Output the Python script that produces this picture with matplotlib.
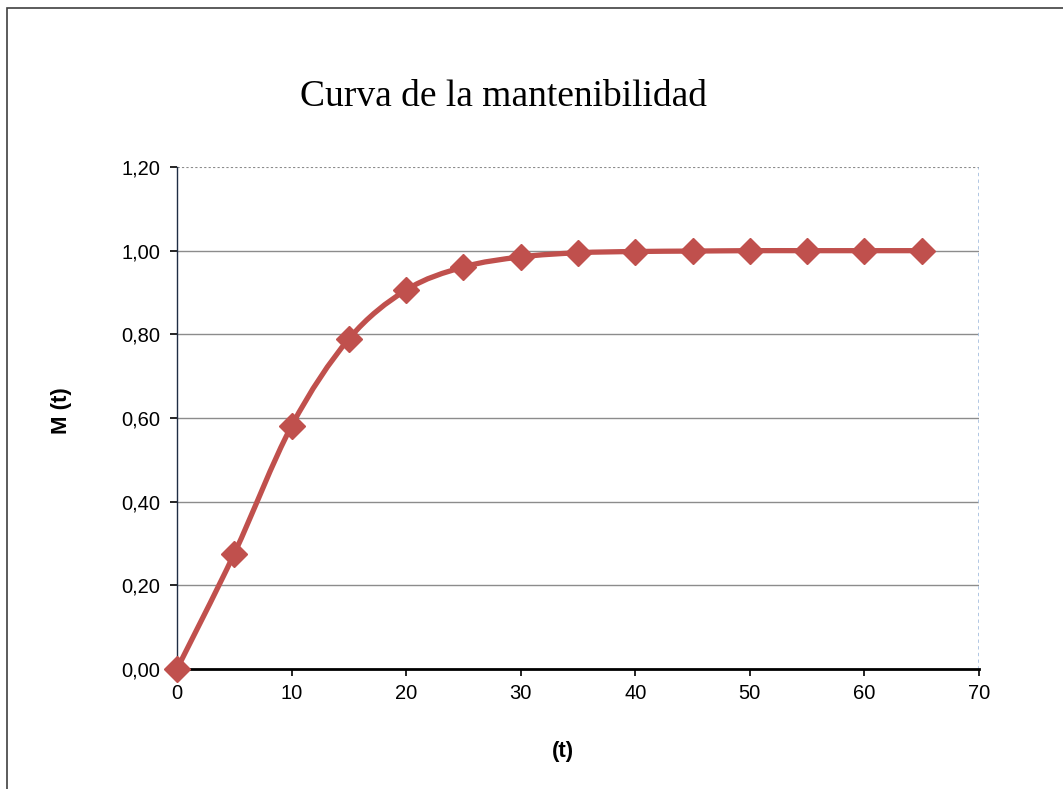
import numpy as np
import matplotlib
matplotlib.use('Agg')
import matplotlib.pyplot as plt
from matplotlib.path import Path
from matplotlib.patches import PathPatch, Rectangle

# values
t = [0, 5, 10, 15, 20, 25, 30, 35, 40, 45, 50, 55, 60, 65]
m = [0.0, 0.276, 0.581, 0.789, 0.906, 0.961, 0.985, 0.995, 0.998, 0.999, 1.0, 1.0, 1.0, 1.0]
yticks = [0.0, 0.2, 0.4, 0.6, 0.8, 1.0, 1.2]
xticks = [0, 10, 20, 30, 40, 50, 60, 70]

red = '#C0504D'

plt.rcParams['font.family'] = ['Liberation Sans', 'DejaVu Sans']

fig = plt.figure(figsize=(10.63, 7.89), dpi=100)
# outer chart frame (only left/top visible)
fig.patches.append(Rectangle((7 / 1063, -0.1), 1.2, 1.1 - 8 / 789,
                             transform=fig.transFigure, fill=False,
                             edgecolor='#404040', linewidth=1.2))

ax = fig.add_axes([177 / 1063, 1 - 669 / 789, (979 - 177) / 1063, (669 - 167) / 789])
ax.set_xlim(0, 70)
ax.set_ylim(0, 1.2)

# gridlines
for y in yticks[1:-1]:
    ax.axhline(y, color='#8c8c8c', linewidth=1.0, zorder=1)
ax.axhline(1.2, color='#8c8c8c', linewidth=0.8, linestyle=(0, (2, 2)), zorder=1)
ax.axvline(70, color='#a9c1e0', linewidth=2.0, linestyle=(0, (1.2, 1.2)), zorder=1)

# smoothed line (Excel-like bezier through the points)
pts = np.column_stack([t, m])
verts = [pts[0]]
codes = [Path.MOVETO]
n = len(pts)
for i in range(n - 1):
    p0 = pts[i - 1] if i > 0 else pts[i]
    p1 = pts[i]
    p2 = pts[i + 1]
    p3 = pts[i + 2] if i + 2 < n else pts[i + 1]
    c1 = p1 + (p2 - p0) / 6
    c2 = p2 - (p3 - p1) / 6
    verts += [c1, c2, p2]
    codes += [Path.CURVE4] * 3
ax.add_patch(PathPatch(Path(verts, codes), facecolor='none', edgecolor=red,
                       linewidth=3.8, zorder=3, capstyle='round'))
ax.plot(t, m, linestyle='none', marker='D', markersize=13, color=red,
        markeredgecolor=red, zorder=4, clip_on=False)

ax.spines['top'].set_visible(False)
ax.spines['right'].set_visible(False)
ax.spines['left'].set_color('#1f2d44')
ax.spines['left'].set_linewidth(1.0)
ax.spines['bottom'].set_linewidth(2.0)

ax.set_xticks(xticks)
ax.set_yticks(yticks)
ax.set_yticklabels([f'{v:.2f}'.replace('.', ',') for v in yticks])
ax.tick_params(axis='both', direction='out', length=5, width=1.2, labelsize=14.5, colors='black')
ax.tick_params(axis='x', pad=6)
ax.tick_params(axis='y', pad=7)

fig.text(62 / 1063, 1 - 411 / 789, 'M (t)', fontsize=16, fontweight='bold',
         rotation=90, ha='center', va='center')
fig.text(563 / 1063, 1 - 752 / 789, '(t)', fontsize=16, fontweight='bold',
         ha='center', va='center')
fig.text(503 / 1063, 1 - 97 / 789, 'Curva de la mantenibilidad', fontsize=27,
         family=['Liberation Serif', 'DejaVu Serif'], ha='center', va='center')

fig.savefig('out.png', dpi=100)
